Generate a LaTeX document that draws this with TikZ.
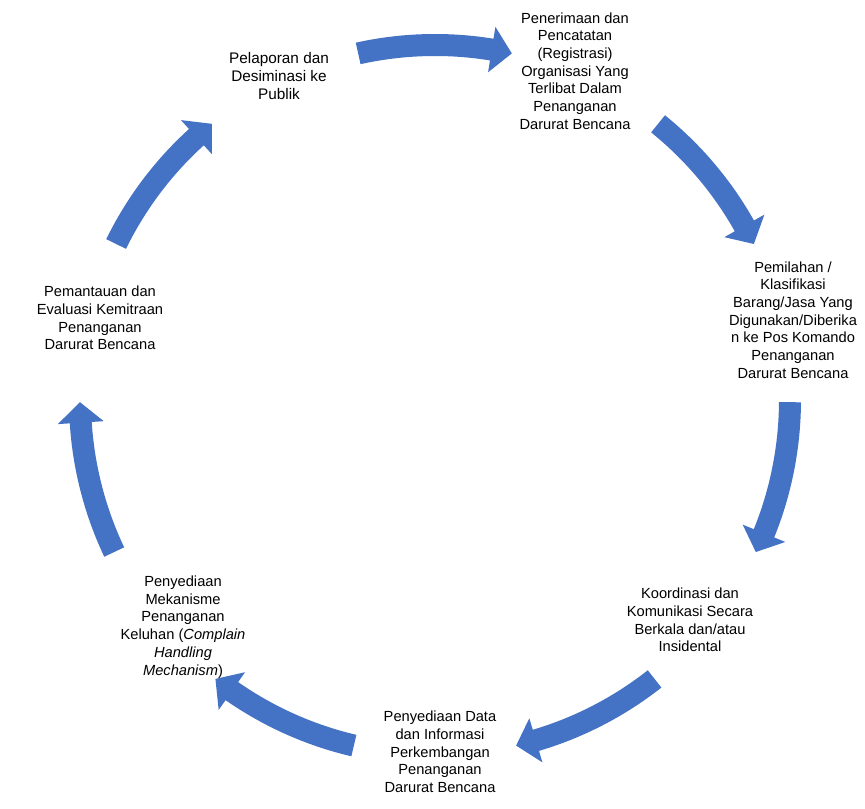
\documentclass[tikz,border=0pt]{standalone}
\usepackage{fontspec}
\setmainfont{Liberation Sans}
\usetikzlibrary{calc}
\definecolor{arrowblue}{HTML}{4472C4}
\newcommand\cycarrow[1]{%
  \pgfmathsetmacro\cyS{#1+12.5}%
  \pgfmathsetmacro\cyE{#1-12.5}%
  \pgfmathsetmacro\cyH{\cyE+3.3}%
  \fill[arrowblue] ($(c)+(\cyS:366)$) arc[start angle=\cyS, end angle=\cyH, radius=366]
    -- ($(c)+(\cyH:378)$) -- ($(c)+(\cyE:355)$) -- ($(c)+(\cyH:332)$)
    -- ($(c)+(\cyH:344)$) arc[start angle=\cyH, end angle=\cyS, radius=344] -- cycle;}
\begin{document}
\begin{tikzpicture}[x=0.75pt,y=0.75pt,
  lbl/.style={align=center, inner sep=0pt, font=\fontsize{11}{13.3}\selectfont},
  lblbig/.style={align=center, inner sep=0pt, font=\fontsize{11.5}{13.3}\selectfont}]
\fill[white] (0,0) rectangle (865,809);
\useasboundingbox (0,0) rectangle (865,809);
\coordinate (c) at (435,409);
\foreach \m in {90,38.57,-12.86,-64.29,-115.71,-167.14,141.43} {\cycarrow{\m}}
\node[lblbig] (n1) at (279,733) {Pelaporan dan\\Desiminasi ke\\Publik};
\node[lbl] (n2) at (575,738) {Penerimaan dan\\Pencatatan\\(Registrasi)\\Organisasi Yang\\Terlibat Dalam\\Penanganan\\Darurat Bencana};
\node[lbl] (n3) at (793,489) {Pemilahan /\\Klasifikasi\\Barang/Jasa Yang\\Digunakan/Diberika\\n ke Pos Komando\\Penanganan\\Darurat Bencana};
\node[lbl] (n4) at (690,189) {Koordinasi dan\\Komunikasi Secara\\Berkala dan/atau\\Insidental};
\node[lbl] (n5) at (440,57) {Penyediaan Data\\dan Informasi\\Perkembangan\\Penanganan\\Darurat Bencana};
\node[lbl] (n6) at (183,182) {Penyediaan\\Mekanisme\\Penanganan\\Keluhan (\textit{Complain}\\\textit{Handling}\\\textit{Mechanism})};
\node[lbl] (n7) at (100,491) {Pemantauan dan\\Evaluasi Kemitraan\\Penanganan\\Darurat Bencana};
\end{tikzpicture}
\end{document}
